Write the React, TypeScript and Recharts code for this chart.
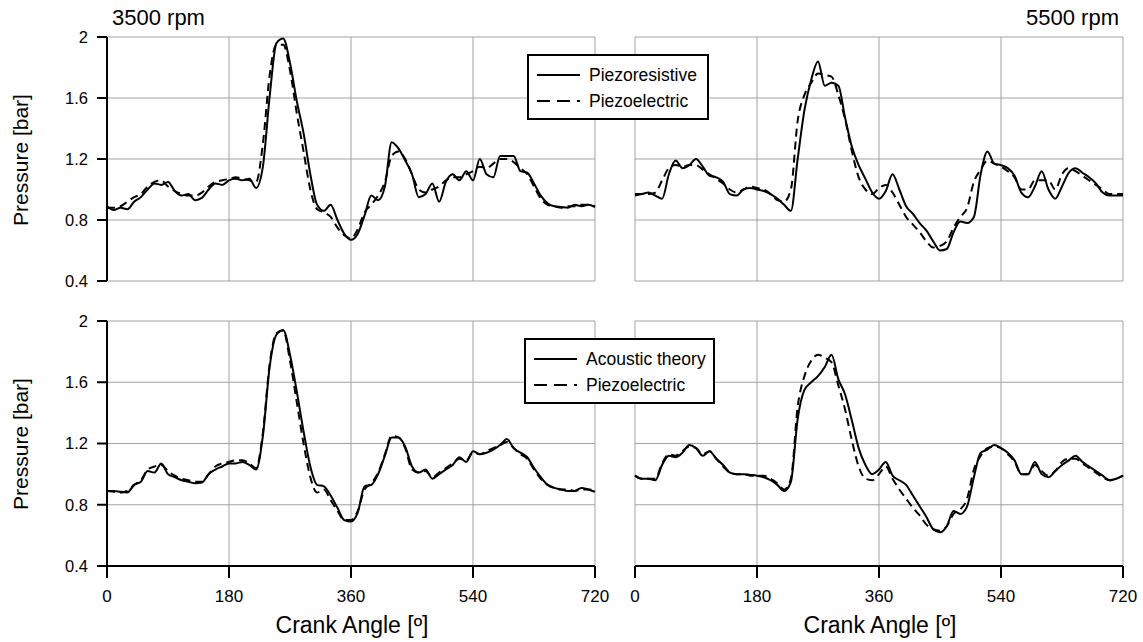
import React from 'react';
import { LineChart, Line, XAxis, YAxis, CartesianGrid } from 'recharts';

const angles = [
  0, 10, 20, 30, 40, 50, 60, 70, 80, 90, 100, 110, 120, 130, 140, 150, 160, 170, 180,
  190, 200, 210, 220, 230, 240, 250, 260, 270, 280, 290, 300, 310, 320, 330, 340, 350, 360,
  370, 380, 390, 400, 410, 420, 430, 440, 450, 460, 470, 480, 490, 500, 510, 520, 530, 540,
  550, 560, 570, 580, 590, 600, 610, 620, 630, 640, 650, 660, 670, 680, 690, 700, 710, 720,
];
const angleTicks = [0, 180, 360, 540, 720];
const pressureTicks = [0.4, 0.8, 1.2, 1.6, 2];

// 3500 rpm
const rpm3500Piezoresistive = [
  0.89, 0.865, 0.88, 0.87, 0.92, 0.95, 1.0, 1.04, 1.03, 1.05, 0.99, 0.96, 0.97, 0.93, 0.945, 1.0, 1.04, 1.03, 1.06,
  1.07, 1.06, 1.07, 1.01, 1.15, 1.61, 1.96, 1.99, 1.83, 1.58, 1.37, 1.1, 0.9, 0.86, 0.9, 0.8, 0.71, 0.67,
  0.71, 0.83, 0.96, 0.93, 1.02, 1.31, 1.27, 1.19, 1.1, 0.95, 0.97, 1.04, 0.92, 1.05, 1.1, 1.06, 1.12, 1.06,
  1.2, 1.1, 1.08, 1.22, 1.22, 1.22, 1.12, 1.11, 1.04, 0.96, 0.91, 0.89, 0.885, 0.88, 0.9, 0.89, 0.9, 0.885,
];
const rpm3500PiezoelectricTop = [
  0.88, 0.88, 0.89, 0.92, 0.95, 0.97, 1.02, 1.05, 1.06, 1.02, 0.99, 0.97, 0.96, 0.96, 0.98, 1.02, 1.05, 1.06, 1.07,
  1.08, 1.07, 1.06, 1.05, 1.3, 1.75, 1.95, 1.95, 1.78, 1.5, 1.25, 1.0, 0.87, 0.85, 0.82, 0.75, 0.7, 0.68,
  0.74, 0.85, 0.9, 0.96, 1.05, 1.22, 1.25, 1.2, 1.1, 1.0, 0.98, 1.0, 1.02, 1.06, 1.08, 1.08, 1.1, 1.12,
  1.15, 1.14, 1.17, 1.2, 1.2, 1.18, 1.14, 1.1, 1.02, 0.94, 0.9, 0.89, 0.88, 0.89, 0.89, 0.9, 0.9, 0.89,
];
const rpm3500Acoustic = [
  0.89, 0.89, 0.885, 0.88, 0.93, 0.95, 1.02, 1.01, 1.07, 1.0, 0.98, 0.96, 0.95, 0.94, 0.945, 1.0, 1.03, 1.05, 1.07,
  1.07, 1.08, 1.06, 1.03, 1.25, 1.7, 1.91, 1.94, 1.78, 1.54, 1.28, 1.05, 0.93, 0.92, 0.86, 0.78, 0.7, 0.69,
  0.75, 0.92, 0.93, 1.0, 1.12, 1.24, 1.24, 1.18, 1.05, 1.01, 1.03, 0.97, 1.0, 1.03, 1.06, 1.11, 1.08, 1.15,
  1.13, 1.14, 1.16, 1.19, 1.23, 1.17, 1.14, 1.11, 1.04, 0.98, 0.93, 0.91, 0.9, 0.89, 0.89, 0.91, 0.9, 0.885,
];
const rpm3500PiezoelectricBottom = [
  0.89, 0.885, 0.88, 0.89, 0.93, 0.96, 1.03, 1.05, 1.06, 1.02, 0.99, 0.97, 0.96, 0.95, 0.95, 1.0, 1.05, 1.07, 1.08,
  1.09, 1.09, 1.07, 1.04, 1.27, 1.72, 1.92, 1.94, 1.74, 1.47, 1.2, 0.98, 0.88, 0.9, 0.83, 0.76, 0.7, 0.7,
  0.76, 0.9, 0.94, 1.01, 1.13, 1.25, 1.24, 1.17, 1.03, 1.01, 1.02, 0.98, 1.01, 1.04, 1.07, 1.1, 1.09, 1.14,
  1.13, 1.15, 1.17, 1.19, 1.21, 1.17, 1.13, 1.1, 1.03, 0.97, 0.93, 0.91, 0.9, 0.9, 0.89, 0.9, 0.9, 0.89,
];

// 5500 rpm
const rpm5500Piezoresistive = [
  0.96, 0.97, 0.98, 0.96, 0.94, 1.1, 1.19, 1.14, 1.16, 1.2, 1.15, 1.09, 1.08, 1.05, 0.97, 0.96, 1.0, 1.01, 1.0,
  0.99, 0.97, 0.94, 0.9, 0.86, 1.2, 1.52, 1.72, 1.84, 1.68, 1.7, 1.68, 1.47, 1.28, 1.16, 1.07, 0.98, 0.94,
  0.99, 1.1, 1.0, 0.89, 0.84, 0.78, 0.73, 0.66, 0.6, 0.61, 0.72, 0.79, 0.78, 0.82, 1.1, 1.25, 1.17, 1.16,
  1.14, 1.09, 0.98, 0.95, 1.02, 1.12, 1.0, 0.94, 1.02, 1.11, 1.14, 1.11, 1.08, 1.04, 0.98, 0.96, 0.96, 0.96,
];
const rpm5500PiezoelectricTop = [
  0.97, 0.97, 0.97, 0.98, 1.06, 1.14, 1.16, 1.15, 1.16, 1.16, 1.13, 1.1, 1.07, 1.04, 1.0, 0.98, 1.0, 1.02, 1.01,
  1.0, 0.97, 0.93, 0.92, 1.0, 1.45, 1.62, 1.7, 1.76, 1.75, 1.74, 1.62, 1.46, 1.25, 1.08, 1.0, 0.97, 1.01,
  1.03, 0.98, 0.9, 0.82, 0.77, 0.72, 0.66, 0.62, 0.63, 0.66, 0.75, 0.82, 0.88, 1.05, 1.13, 1.19, 1.17, 1.15,
  1.12, 1.08, 1.0, 1.0, 1.06, 1.06, 1.06, 1.0, 1.1, 1.14, 1.12, 1.09, 1.06, 1.03, 1.0, 0.97, 0.97, 0.97,
];
const rpm5500Acoustic = [
  0.99, 0.97, 0.97, 0.96, 1.06, 1.12, 1.11, 1.14, 1.19, 1.17, 1.12, 1.15, 1.1, 1.06, 1.01, 1.0, 1.0, 0.995, 0.99,
  0.98, 0.96, 0.93, 0.89, 0.95, 1.36, 1.55, 1.6, 1.64, 1.7, 1.78, 1.62, 1.52, 1.35, 1.17, 1.06, 1.0, 1.03,
  1.08, 0.99, 0.96, 0.93, 0.86, 0.79, 0.72, 0.64, 0.62, 0.66, 0.76, 0.74, 0.79, 0.98, 1.14, 1.16, 1.19, 1.17,
  1.14, 1.09, 1.0, 1.0, 1.08, 1.0, 0.98, 1.02, 1.06, 1.09, 1.12, 1.08, 1.05, 1.02, 0.99, 0.96, 0.97, 0.99,
];
const rpm5500PiezoelectricBottom = [
  0.99, 0.97, 0.97, 0.97, 1.07, 1.13, 1.12, 1.15, 1.18, 1.17, 1.13, 1.15, 1.1, 1.05, 1.01, 1.0, 1.0, 0.99, 0.99,
  0.99, 0.97, 0.94, 0.9, 0.97, 1.44, 1.64, 1.74, 1.78, 1.76, 1.73, 1.58, 1.42, 1.22, 1.05, 0.97, 0.96, 1.0,
  1.05, 0.97, 0.9, 0.84, 0.78, 0.73, 0.67, 0.64, 0.63, 0.66, 0.74, 0.77, 0.84, 1.03, 1.12, 1.17, 1.18, 1.17,
  1.13, 1.08, 1.0, 1.0, 1.06, 1.02, 0.99, 1.02, 1.08, 1.1, 1.1, 1.07, 1.04, 1.01, 0.98, 0.96, 0.97, 0.99,
];

const FONT = '"Liberation Sans", Arial, Helvetica, sans-serif';

function rows(a: number[], b: number[]) {
  return angles.map((angle, i) => ({ angle, a: a[i], b: b[i] }));
}

type PanelProps = {
  left: number;
  top: number;
  width: number;
  height: number;
  margin: { top: number; right: number; bottom: number; left: number };
  data: { angle: number; a: number; b: number }[];
  showX: boolean;
  showY: boolean;
  nameA: string;
  nameB: string;
};

function Panel({ left, top, width, height, margin, data, showX, showY, nameA, nameB }: PanelProps) {
  return (
    <div style={{ position: 'absolute', left, top, width, height }}>
      <LineChart width={width} height={height} data={data} margin={margin}>
        <CartesianGrid stroke="#a3a3a3" strokeWidth={1} />
        <XAxis
          dataKey="angle"
          type="number"
          domain={[0, 720]}
          ticks={angleTicks}
          interval={0}
          hide={!showX}
          height={40}
          axisLine={{ stroke: '#000', strokeWidth: 2 }}
          tickLine={{ stroke: '#000', strokeWidth: 2 }}
          tickSize={12}
          tickMargin={12}
          tick={{ fontSize: 17, fill: '#000' }}
        />
        <YAxis
          type="number"
          domain={[0.4, 2]}
          ticks={pressureTicks}
          interval={0}
          hide={!showY}
          width={showY ? 107 : 0}
          axisLine={{ stroke: '#000', strokeWidth: 2 }}
          tickLine={{ stroke: '#000', strokeWidth: 2 }}
          tickSize={10}
          tickMargin={9}
          tick={{ fontSize: 16.5, fill: '#000' }}
        />
        <Line
          name={nameA}
          dataKey="a"
          type="monotone"
          stroke="#000"
          strokeWidth={2}
          dot={false}
          isAnimationActive={false}
        />
        <Line
          name={nameB}
          dataKey="b"
          type="monotone"
          stroke="#000"
          strokeWidth={2}
          strokeDasharray="8 5"
          dot={false}
          isAnimationActive={false}
        />
      </LineChart>
    </div>
  );
}

function LegendBox({ x, y, w, first, second }: { x: number; y: number; w: number; first: string; second: string }) {
  return (
    <g>
      <rect x={x} y={y} width={w} height={64} fill="#fff" stroke="#000" strokeWidth={2} />
      <line x1={x + 9} x2={x + 52} y1={y + 20} y2={y + 20} stroke="#000" strokeWidth={2} />
      <line x1={x + 9} x2={x + 52} y1={y + 46} y2={y + 46} stroke="#000" strokeWidth={2} strokeDasharray="13 7" />
      <text x={x + 61} y={y + 20} dominantBaseline="central" fontSize={17.5} fill="#000">{first}</text>
      <text x={x + 61} y={y + 46} dominantBaseline="central" fontSize={17.5} fill="#000">{second}</text>
    </g>
  );
}

export default function App() {
  return (
    <div
      style={{
        position: 'absolute',
        left: 0,
        top: 0,
        width: 1143,
        height: 642,
        background: '#fff',
        fontFamily: FONT,
        overflow: 'hidden',
      }}
    >
      <Panel
        left={0}
        top={0}
        width={612}
        height={290}
        margin={{ top: 37, right: 17, bottom: 9, left: 0 }}
        data={rows(rpm3500Piezoresistive, rpm3500PiezoelectricTop)}
        showX={false}
        showY={true}
        nameA="Piezoresistive"
        nameB="Piezoelectric"
      />
      <Panel
        left={620}
        top={0}
        width={523}
        height={290}
        margin={{ top: 37, right: 20, bottom: 9, left: 15 }}
        data={rows(rpm5500Piezoresistive, rpm5500PiezoelectricTop)}
        showX={false}
        showY={false}
        nameA="Piezoresistive"
        nameB="Piezoelectric"
      />
      <Panel
        left={0}
        top={290}
        width={612}
        height={352}
        margin={{ top: 31, right: 17, bottom: 36, left: 0 }}
        data={rows(rpm3500Acoustic, rpm3500PiezoelectricBottom)}
        showX={true}
        showY={true}
        nameA="Acoustic theory"
        nameB="Piezoelectric"
      />
      <Panel
        left={620}
        top={290}
        width={523}
        height={352}
        margin={{ top: 31, right: 20, bottom: 36, left: 15 }}
        data={rows(rpm5500Acoustic, rpm5500PiezoelectricBottom)}
        showX={true}
        showY={false}
        nameA="Acoustic theory"
        nameB="Piezoelectric"
      />
      <svg
        width={1143}
        height={642}
        style={{ position: 'absolute', left: 0, top: 0, pointerEvents: 'none', fontFamily: FONT }}
      >
        <text x={112} y={25} fontSize={22} fill="#000">3500 rpm</text>
        <text x={1119} y={25} fontSize={22} fill="#000" textAnchor="end">5500 rpm</text>
        <text transform="translate(28,160) rotate(-90)" textAnchor="middle" fontSize={21} fill="#000">Pressure [bar]</text>
        <text transform="translate(28,444) rotate(-90)" textAnchor="middle" fontSize={21} fill="#000">Pressure [bar]</text>
        <text x={352} y={633} textAnchor="middle" fontSize={23} fill="#000">Crank Angle [º]</text>
        <text x={880} y={633} textAnchor="middle" fontSize={23} fill="#000">Crank Angle [º]</text>
        <LegendBox x={528} y={55} w={180} first="Piezoresistive" second="Piezoelectric" />
        <LegendBox x={525} y={339} w={189} first="Acoustic theory" second="Piezoelectric" />
      </svg>
    </div>
  );
}
